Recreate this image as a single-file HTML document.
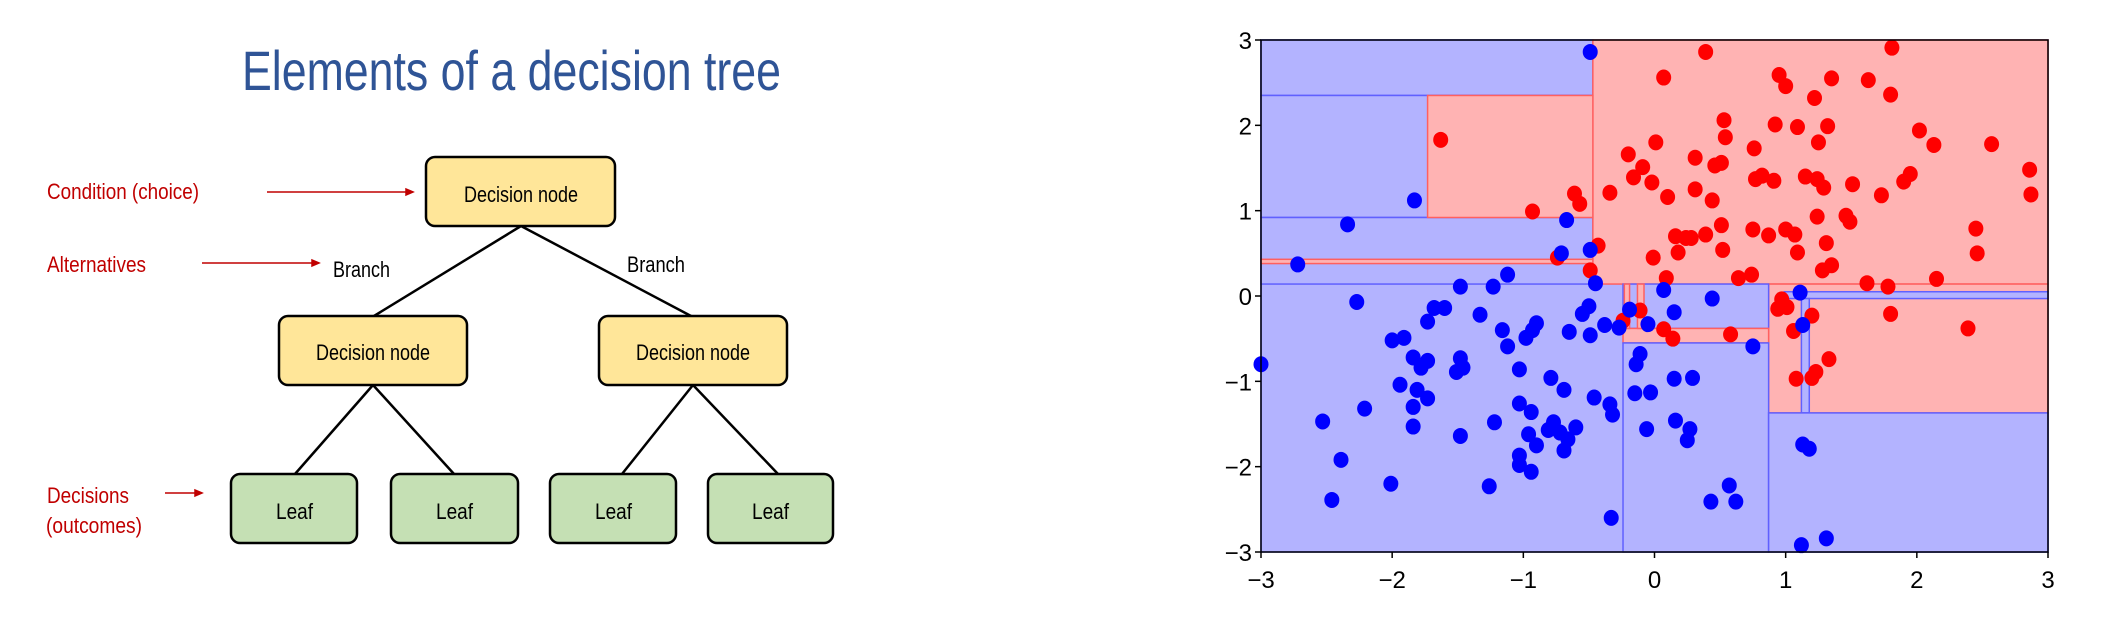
<!DOCTYPE html>
<html><head><meta charset="utf-8"><style>
html,body{margin:0;padding:0;background:#fff;}
svg{display:block;}
text{font-family:"Liberation Sans",sans-serif;}
</style></head><body>
<svg width="2102" height="628" viewBox="0 0 2102 628" xmlns="http://www.w3.org/2000/svg">
<g>
<text x="242" y="90" font-size="56" fill="#2f5496" textLength="539" lengthAdjust="spacingAndGlyphs">Elements of a decision tree</text>
<g stroke="#000" stroke-width="2.5">
<line x1="521" y1="226" x2="374" y2="316"/><line x1="521" y1="226" x2="691" y2="316"/>
<line x1="373" y1="385" x2="295" y2="474"/><line x1="373" y1="385" x2="454" y2="474"/>
<line x1="693" y1="385" x2="622" y2="474"/><line x1="693" y1="385" x2="778" y2="474"/>
</g>
<g stroke="#000" stroke-width="2.5">
<rect x="426" y="157" width="189" height="69" rx="9" fill="#ffe699"/>
<rect x="279" y="316" width="188" height="69" rx="9" fill="#ffe699"/>
<rect x="599" y="316" width="188" height="69" rx="9" fill="#ffe699"/>
<rect x="231" y="474" width="126" height="69" rx="9" fill="#c5e0b4"/>
<rect x="391" y="474" width="127" height="69" rx="9" fill="#c5e0b4"/>
<rect x="550" y="474" width="126" height="69" rx="9" fill="#c5e0b4"/>
<rect x="708" y="474" width="125" height="69" rx="9" fill="#c5e0b4"/>
</g>
<g font-size="22" fill="#000">
<text x="464" y="202" textLength="114" lengthAdjust="spacingAndGlyphs">Decision node</text>
<text x="316" y="360" textLength="114" lengthAdjust="spacingAndGlyphs">Decision node</text>
<text x="636" y="360" textLength="114" lengthAdjust="spacingAndGlyphs">Decision node</text>
<text x="276" y="519" textLength="37" lengthAdjust="spacingAndGlyphs">Leaf</text>
<text x="436" y="519" textLength="37" lengthAdjust="spacingAndGlyphs">Leaf</text>
<text x="595" y="519" textLength="37" lengthAdjust="spacingAndGlyphs">Leaf</text>
<text x="752" y="519" textLength="37" lengthAdjust="spacingAndGlyphs">Leaf</text>
<text x="333" y="277" textLength="57" lengthAdjust="spacingAndGlyphs">Branch</text>
<text x="627" y="272" textLength="58" lengthAdjust="spacingAndGlyphs">Branch</text>
</g>
<g font-size="22" fill="#c00000">
<text x="47" y="199" textLength="152" lengthAdjust="spacingAndGlyphs">Condition (choice)</text>
<text x="47" y="272" textLength="99" lengthAdjust="spacingAndGlyphs">Alternatives</text>
<text x="47" y="503" textLength="82" lengthAdjust="spacingAndGlyphs">Decisions</text>
<text x="46" y="533" textLength="96" lengthAdjust="spacingAndGlyphs">(outcomes)</text>
</g>
<g stroke="#c00000" stroke-width="1.5" fill="#c00000">
<line x1="267" y1="192" x2="408" y2="192"/><polygon points="413,192 406,189 406,195"/>
<line x1="202" y1="263" x2="314" y2="263"/><polygon points="319,263 312,260 312,266"/>
<line x1="165" y1="493" x2="197" y2="493"/><polygon points="202,493 195,490 195,496"/>
</g>
</g>
<g id="chart"></g>
</svg>
<script>
const redX=[0.39,1.81,0.07,0.95,1.00,1.35,1.63,1.80,1.22,0.53,0.92,1.09,1.32,2.02,2.13,2.57,0.54,0.01,1.25,0.76,-0.20,0.31,0.46,0.51,-0.09,-0.16,-0.02,0.77,0.82,0.91,1.15,1.24,1.29,1.51,1.90,1.95,2.86,2.87,1.73,0.31,0.44,0.10,-0.34,-0.61,-0.57,-0.93,-1.63,1.24,1.46,1.49,0.51,0.16,0.24,0.28,0.39,0.75,0.87,1.00,1.07,1.31,2.45,2.46,0.52,0.18,1.09,-0.01,-0.43,-0.74,1.35,1.28,-0.49,0.09,0.64,0.74,1.62,1.78,2.15,0.97,0.94,1.01,1.20,1.80,2.39,1.06,0.58,0.07,0.14,-0.11,-0.24,1.33,1.23,1.08,1.20];
const redY=[2.86,2.91,2.56,2.59,2.46,2.55,2.53,2.36,2.32,2.06,2.01,1.98,1.99,1.94,1.77,1.78,1.86,1.80,1.80,1.73,1.66,1.62,1.53,1.56,1.51,1.39,1.33,1.37,1.41,1.35,1.40,1.37,1.27,1.31,1.34,1.43,1.48,1.19,1.18,1.25,1.12,1.16,1.21,1.20,1.08,0.99,1.83,0.93,0.94,0.87,0.83,0.70,0.68,0.68,0.72,0.78,0.71,0.78,0.72,0.62,0.79,0.50,0.54,0.51,0.51,0.45,0.59,0.45,0.36,0.30,0.30,0.21,0.21,0.25,0.15,0.11,0.20,-0.04,-0.15,-0.13,-0.23,-0.21,-0.38,-0.41,-0.45,-0.39,-0.50,-0.17,-0.29,-0.74,-0.89,-0.97,-0.96];
const blueX=[-0.49,-1.83,-2.34,-2.72,-0.67,-0.71,-0.49,-1.12,-1.48,-1.23,-0.45,0.07,1.11,0.44,-2.27,-1.68,-1.60,-1.73,-1.33,-0.50,-0.55,-0.90,-0.93,-1.16,-0.98,-0.65,-0.49,-0.38,-0.27,-0.19,-0.05,0.15,1.13,0.75,-2.00,-1.91,-1.12,-0.11,-0.14,-1.84,-1.73,-1.78,-1.48,-1.46,-1.51,-1.03,-1.94,-1.81,-1.73,-1.84,-2.21,-0.79,-0.69,0.15,0.29,-0.15,-0.03,-0.46,-1.03,-0.94,-0.34,-0.32,-1.22,-2.53,-1.84,-1.48,-0.77,-0.81,-0.72,-0.60,-0.66,-0.96,-0.90,-0.69,-0.06,0.16,0.27,0.25,1.13,1.18,-1.03,-1.03,-0.94,-2.39,-2.01,-1.26,-2.46,0.57,0.43,0.62,-0.33,1.12,1.31,-3.00];
const blueY=[2.86,1.12,0.84,0.37,0.89,0.50,0.54,0.25,0.11,0.11,0.15,0.07,0.04,-0.03,-0.07,-0.14,-0.14,-0.30,-0.22,-0.12,-0.21,-0.32,-0.40,-0.40,-0.49,-0.42,-0.46,-0.34,-0.37,-0.16,-0.33,-0.19,-0.34,-0.59,-0.52,-0.49,-0.59,-0.68,-0.80,-0.72,-0.76,-0.84,-0.73,-0.84,-0.89,-0.86,-1.04,-1.10,-1.20,-1.30,-1.32,-0.96,-1.10,-0.97,-0.96,-1.14,-1.13,-1.19,-1.26,-1.36,-1.27,-1.39,-1.48,-1.47,-1.53,-1.64,-1.48,-1.57,-1.60,-1.54,-1.68,-1.62,-1.75,-1.81,-1.56,-1.46,-1.56,-1.69,-1.74,-1.79,-1.87,-1.98,-2.06,-1.92,-2.20,-2.23,-2.39,-2.22,-2.41,-2.41,-2.60,-2.92,-2.84,-0.80];
const regionX0=[-3,-3,-3,-3,-0.47,-1.73,-3,0.87,0.99,1.12,-0.24,-0.24,-0.23,-0.13,-0.24,0.87];
const regionX1=[3,-0.47,-0.47,-0.47,3,-0.47,-0.47,3,3,1.18,0.87,0.87,-0.19,-0.08,0.87,3];
const regionY0=[-3,2.35,0.92,0.14,0.14,0.92,0.38,-1.37,-0.03,-1.37,-0.38,-0.55,-0.38,-0.38,-3,-3];
const regionY1=[3,3,2.35,0.92,3,2.35,0.43,0.14,0.05,-0.03,0.14,-0.38,0.14,0.14,-0.55,-1.37];
const regionCls=["b","b","b","b","r","r","r","r","b","b","b","r","r","r","b","b"];
const xTicks=[-3,-2,-1,0,1,2,3];
const yTicks=[-3,-2,-1,0,1,2,3];
const NS="http://www.w3.org/2000/svg";
const L=1261,R=2048,T=40,B=552;
const sx=v=>L+(v+3)/6*(R-L);
const sy=v=>B-(v+3)/6*(B-T);
const g=document.getElementById('chart');
function mk(t,a){const e=document.createElementNS(NS,t);for(const k in a)e.setAttribute(k,a[k]);g.appendChild(e);return e;}
for(let i=0;i<regionCls.length;i++){
  const r=regionCls[i]==="r";
  const e=mk('rect',{x:sx(regionX0[i]),y:sy(regionY1[i]),width:sx(regionX1[i])-sx(regionX0[i]),height:sy(regionY0[i])-sy(regionY1[i]),fill:r?"#ffb3b3":"#b3b3ff",stroke:r?"#ff6060":"#6060ff","stroke-width":1.5});
  
  
}
for(let i=0;i<redX.length;i++){
  const c=mk('ellipse',{cx:sx(redX[i]),cy:sy(redY[i]),rx:7.5,ry:8,fill:"#ff0000"});
  
  
}
for(let i=0;i<blueX.length;i++){
  const c=mk('ellipse',{cx:sx(blueX[i]),cy:sy(blueY[i]),rx:7.5,ry:8,fill:"#0000ff"});
  
  
}
const fr=mk('rect',{x:L,y:T,width:R-L,height:B-T,fill:"none",stroke:"#000","stroke-width":1.5});


const lab=v=>v<0?"\u2212"+(-v):String(v);
xTicks.forEach(v=>{
  mk('line',{x1:sx(v),x2:sx(v),y1:B,y2:B+6,stroke:"#000","stroke-width":1.5});
  const t=mk('text',{x:sx(v),y:B+36,"font-size":24,"text-anchor":"middle",fill:"#000"});
  t.textContent=lab(v);
  
  
});
yTicks.forEach(v=>{
  mk('line',{x1:L-6,x2:L,y1:sy(v),y2:sy(v),stroke:"#000","stroke-width":1.5});
  const t=mk('text',{x:L-9,y:sy(v)+9,"font-size":24,"text-anchor":"end",fill:"#000"});
  t.textContent=lab(v);
  
  
});
</script>
</body></html>
